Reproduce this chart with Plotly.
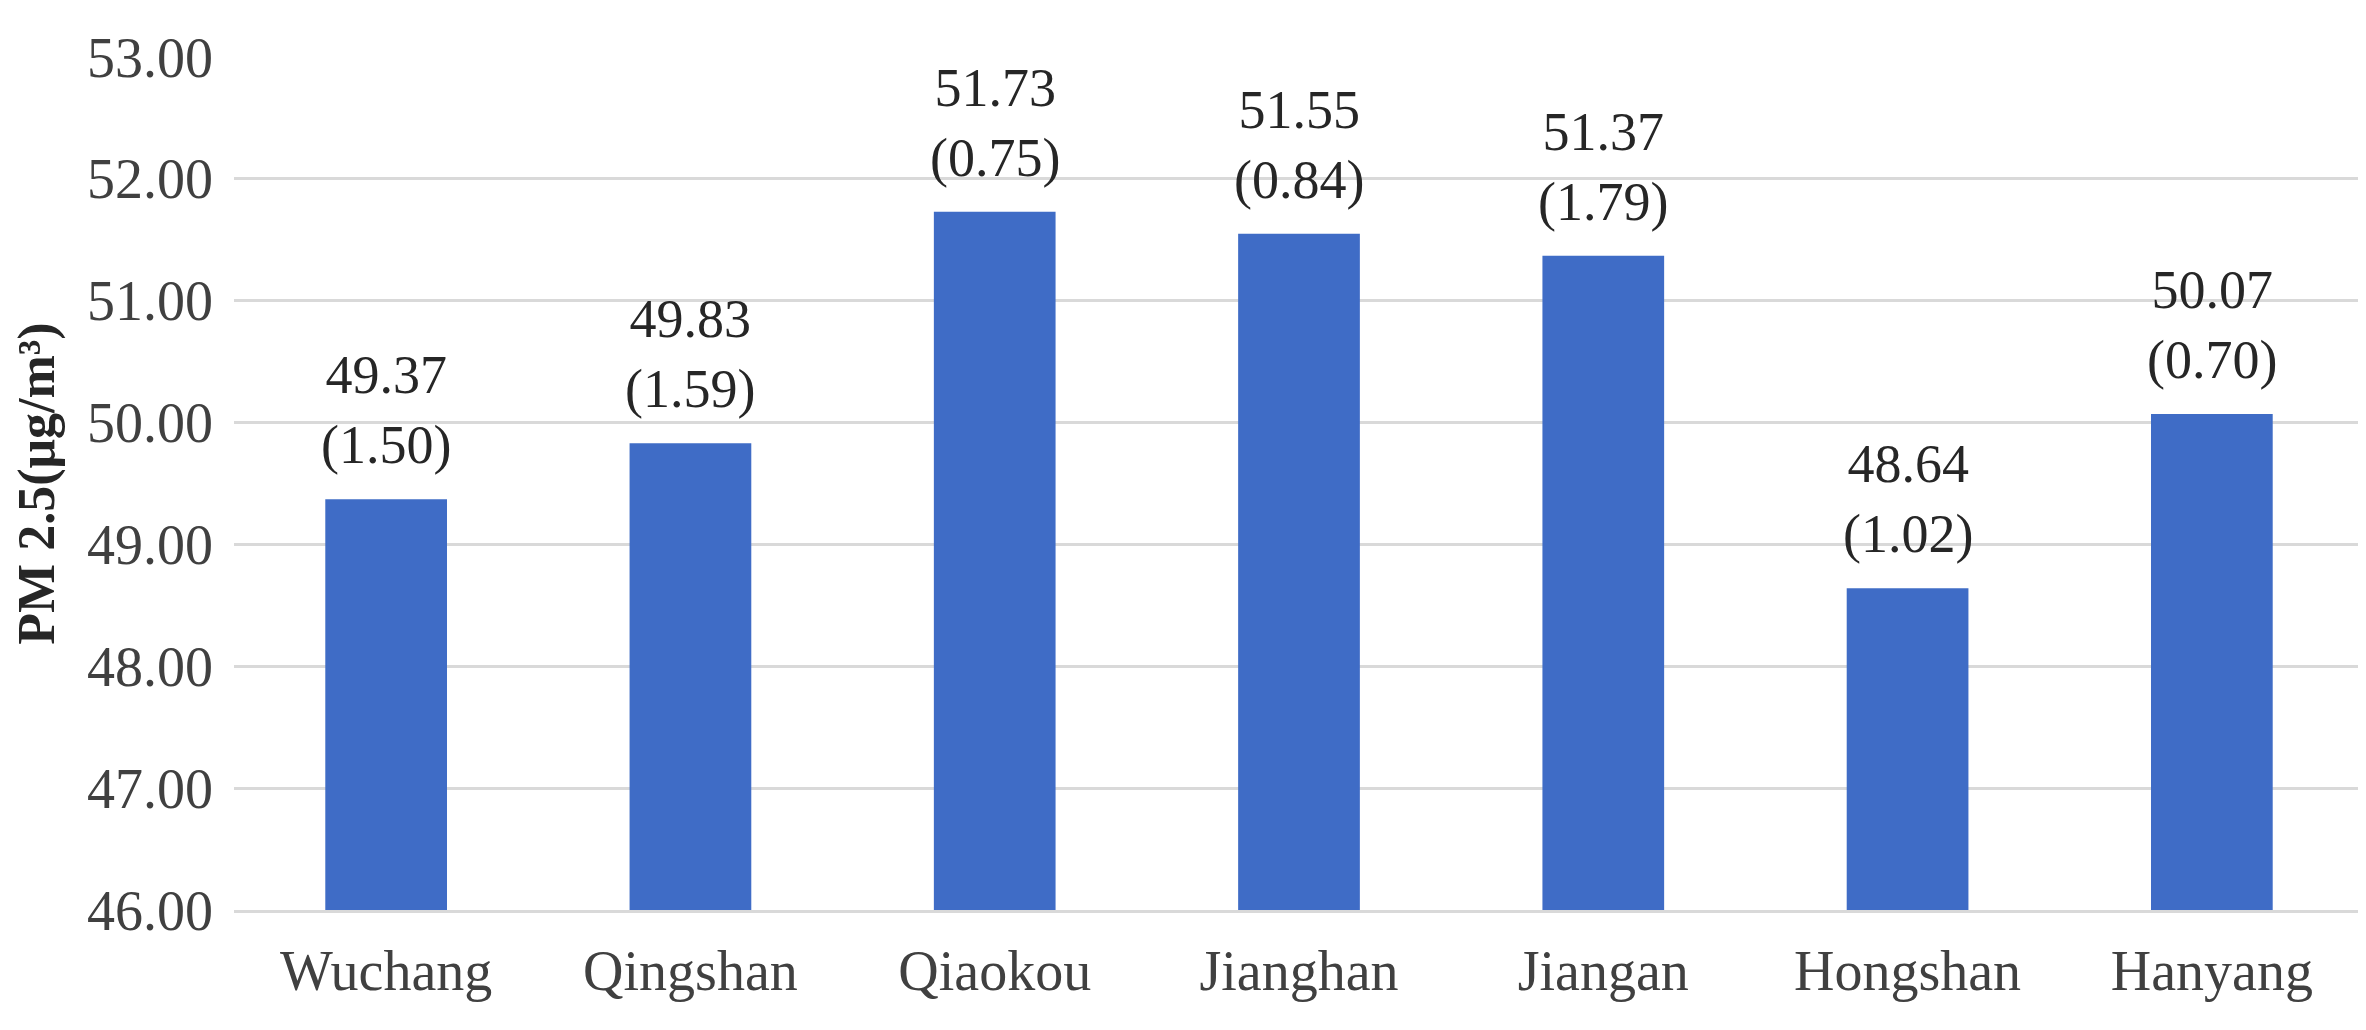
import plotly.graph_objects as go

districts = ["Wuchang", "Qingshan", "Qiaokou", "Jianghan", "Jiangan", "Hongshan", "Hanyang"]
pm25_mean = [49.37, 49.83, 51.73, 51.55, 51.37, 48.64, 50.07]
pm25_sd = [1.50, 1.59, 0.75, 0.84, 1.79, 1.02, 0.70]

serif = "Liberation Serif"

fig = go.Figure()
fig.add_trace(go.Bar(
    x=districts,
    y=pm25_mean,
    marker=dict(color="#3f6cc6", line=dict(width=0)),
    width=0.4,
))

# value (sd) labels above each bar
for d, m, s in zip(districts, pm25_mean, pm25_sd):
    fig.add_annotation(
        x=d, y=m, text="%.2f<br>(%.2f)" % (m, s),
        showarrow=False, yanchor="bottom", yshift=22,
        font=dict(family=serif, size=54, color="#262626"),
    )

fig.update_layout(
    width=2366, height=1030,
    margin=dict(l=226, r=10, t=49, b=128),
    plot_bgcolor="white", paper_bgcolor="white",
    font=dict(family=serif, size=56, color="#404040"),
    showlegend=False,
)
fig.update_yaxes(
    range=[46, 53], dtick=1, tickformat=".2f",
    showgrid=True, gridcolor="#d9d9d9", gridwidth=3,
    zeroline=False, showline=False, ticks="", ticklabelstandoff=20,
    title=dict(text="<b>PM 2.5(μg/m³)</b>", font=dict(family=serif, size=52, color="#262626"), standoff=25),
)
fig.update_xaxes(showline=True, linecolor="#d9d9d9", linewidth=3, ticks="", ticklabelstandoff=10)

fig.write_html("out.html")
